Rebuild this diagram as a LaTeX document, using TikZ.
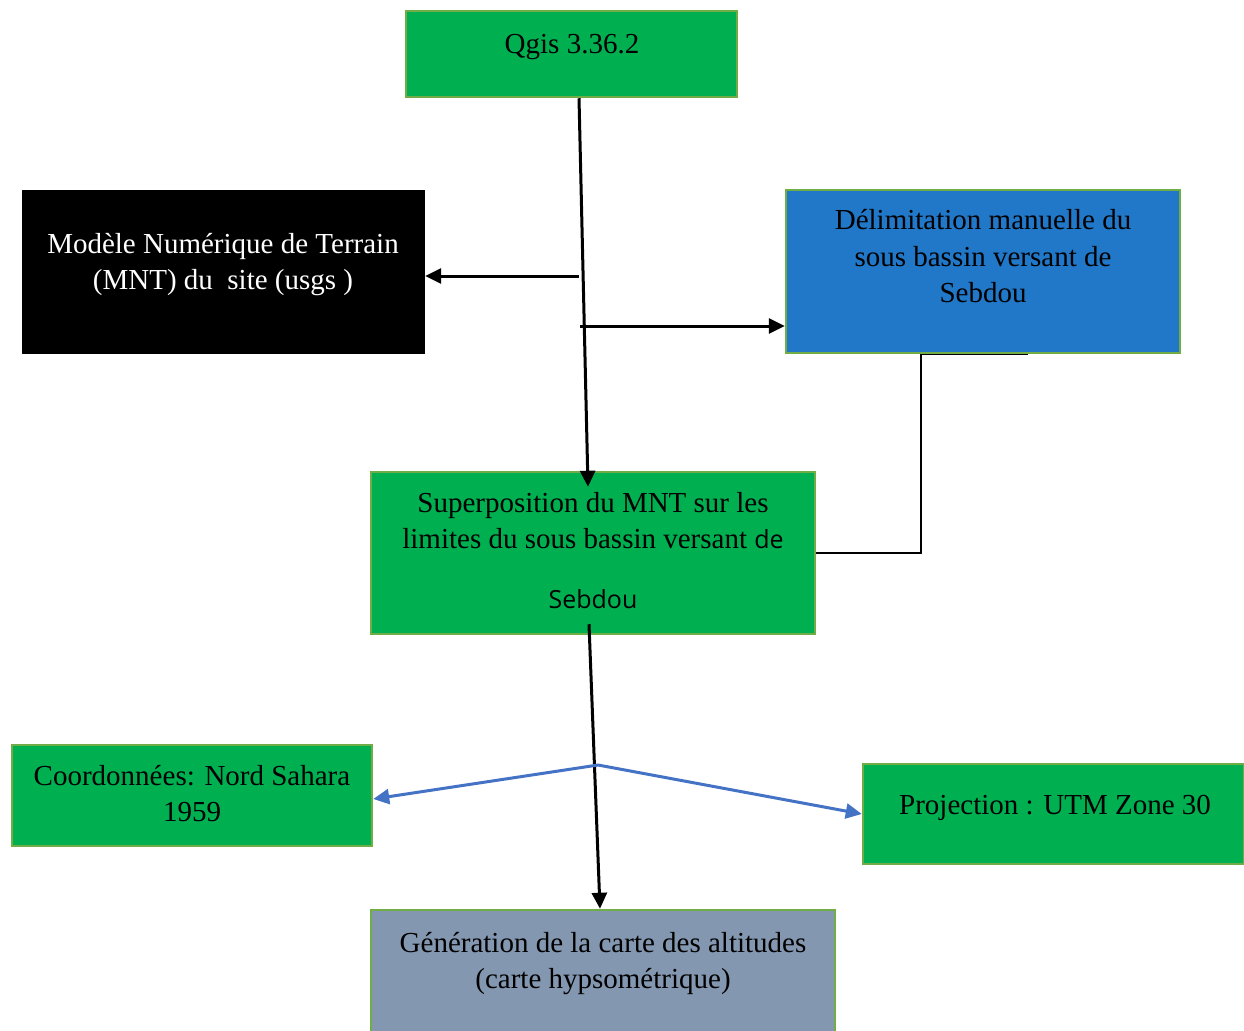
\documentclass[tikz,border=0pt]{standalone}
\usepackage{fontspec}
\setmainfont{Liberation Serif}
\newfontfamily\sebsans{Open Sans}
\usetikzlibrary{arrows.meta}
\definecolor{gfill}{HTML}{00B050}
\definecolor{gline}{HTML}{70AD47}
\definecolor{bfill}{HTML}{2177C8}
\definecolor{sfill}{HTML}{8497B0}
\definecolor{aline}{HTML}{4472C4}
\tikzset{
  box/.style={rectangle, draw=gline, line width=2.5pt, inner sep=0pt},
  txt/.style={font=\fontsize{29}{36}\selectfont, anchor=base, inner sep=0pt},
  arr/.style={line width=3pt, -{Triangle[length=16pt,width=15pt]}},
  barr/.style={line width=3pt, draw=aline, -{Triangle[length=16pt,width=15pt]}},
  thin/.style={line width=1.4pt}
}
\begin{document}
\begin{tikzpicture}[x=1pt,y=-1pt]
\useasboundingbox (0,0) rectangle (1244,1030);
\begin{scope}
\clip (0,0) rectangle (1244,1030);
% boxes
\node[box, fill=gfill, minimum width=331pt, minimum height=86pt] (qgis) at (571.5,54) {};
\node[rectangle, fill=black, inner sep=0pt, minimum width=403pt, minimum height=164pt] (mnt) at (223.5,272) {};
\node[box, fill=bfill, minimum width=394pt, minimum height=163pt] (del) at (983,271.5) {};
\node[box, fill=gfill, minimum width=444pt, minimum height=162pt] (sup) at (593,553) {};
\node[box, fill=gfill, minimum width=360pt, minimum height=101pt] (coord) at (192,795.5) {};
\node[box, fill=gfill, minimum width=381pt, minimum height=100pt] (proj) at (1053.5,814) {};
\node[box, fill=sfill, minimum width=464pt, minimum height=160pt] (gen) at (603,990) {};
\end{scope}
% texts
\node[txt] (tq) at (572,54) {Qgis 3.36.2};
\node[txt, text=white] (tm1) at (223,253) {Modèle Numérique de Terrain};
\node[txt, text=white] (tm2) at (223,289) {(MNT) du\ \ site (usgs )};
\node[txt] (td1) at (983,229) {Délimitation manuelle du};
\node[txt] (td2) at (983,266) {sous bassin versant de};
\node[txt] (td3) at (983,302) {Sebdou};
\node[txt] (ts1) at (593,512) {Superposition du MNT sur les};
\node[txt] (ts2) at (593,548) {limites du sous bassin versant {\sebsans\fontsize{25}{30}\selectfont de}};
\node[txt, font=\sebsans\fontsize{25}{30}\selectfont] (ts3) at (593,608) {Sebdou};
\node[txt] (tc1) at (192,785) {Coordonnées: Nord Sahara};
\node[txt] (tc2) at (192,821) {1959};
\node[txt] (tp) at (1055,814) {Projection : UTM Zone 30};
\node[txt] (tg1) at (603,952) {Génération de la carte des altitudes};
\node[txt] (tg2) at (603,988) {(carte hypsométrique)};
% connectors
\draw[arr] ([xshift=7.5pt]qgis.south) -- ([xshift=-5pt,yshift=-16pt]sup.north);
\coordinate (b1) at (579,276);
\coordinate (b2) at (580,326);
\draw[arr] (b1) -- (b1 -| mnt.east);
\draw[arr] (b2) -- (b2 -| del.west);
\draw[thin] ([xshift=45pt]del.south) -- ([xshift=-62pt]del.south) |- (sup.east);
\draw[arr] ([xshift=-4pt,yshift=11pt]sup.south) -- ([xshift=-3pt]gen.north);
\coordinate (j) at (598,765);
\draw[barr] (j) -- ([yshift=-3.5pt]coord.east);
\draw[barr] (j) -- (proj.west);
\end{tikzpicture}
\end{document}
